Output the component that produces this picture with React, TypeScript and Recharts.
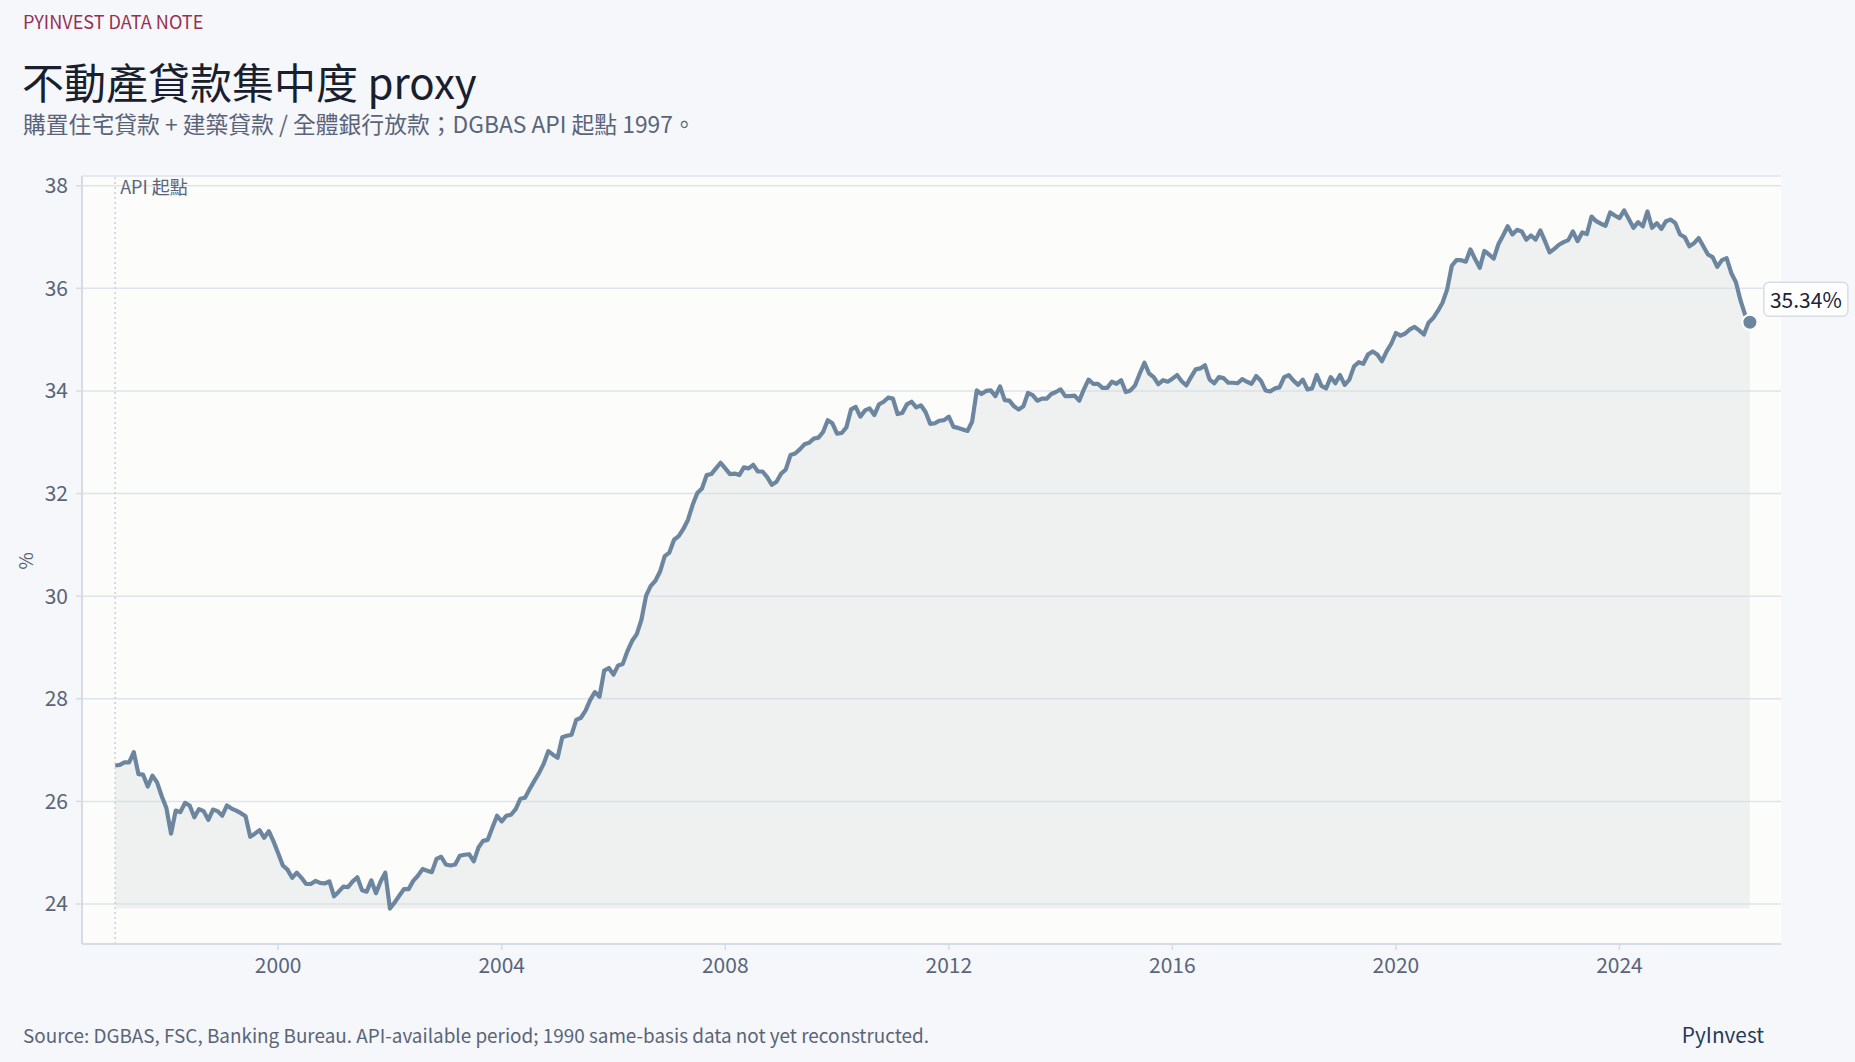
import {
  ComposedChart,
  Area,
  XAxis,
  YAxis,
  CartesianGrid,
  ReferenceLine,
  ReferenceDot,
} from 'recharts';

const FONT = '"Noto Sans CJK TC", "Noto Sans", sans-serif';

// Monthly ratio (%), Jan 1997 onward
const START_YEAR = 1997;
const concentration = [
  26.70, 26.71, 26.76, 26.76, 26.96, 26.53, 26.52, 26.29, 26.50, 26.37, 26.10, 25.87, // 1997
  25.37, 25.82, 25.79, 25.97, 25.92, 25.69, 25.85, 25.81, 25.64, 25.84, 25.81, 25.72, // 1998
  25.92, 25.86, 25.82, 25.77, 25.71, 25.31, 25.37, 25.44, 25.29, 25.42, 25.22, 24.99, // 1999
  24.75, 24.67, 24.51, 24.61, 24.51, 24.39, 24.39, 24.45, 24.41, 24.40, 24.44, 24.15, // 2000
  24.24, 24.34, 24.33, 24.44, 24.52, 24.27, 24.24, 24.46, 24.21, 24.44, 24.61, 23.91, // 2001
  24.03, 24.16, 24.29, 24.29, 24.45, 24.55, 24.68, 24.65, 24.62, 24.88, 24.92, 24.77, // 2002
  24.75, 24.77, 24.94, 24.96, 24.97, 24.83, 25.10, 25.23, 25.25, 25.49, 25.72, 25.61, // 2003
  25.72, 25.74, 25.85, 26.05, 26.07, 26.24, 26.40, 26.55, 26.73, 26.98, 26.91, 26.85, // 2004
  27.25, 27.28, 27.30, 27.59, 27.63, 27.77, 27.98, 28.13, 28.04, 28.55, 28.60, 28.47, // 2005
  28.65, 28.68, 28.93, 29.13, 29.26, 29.54, 30.01, 30.20, 30.30, 30.48, 30.78, 30.85, // 2006
  31.10, 31.17, 31.31, 31.49, 31.78, 32.01, 32.10, 32.36, 32.38, 32.49, 32.60, 32.49, // 2007
  32.38, 32.39, 32.36, 32.51, 32.49, 32.56, 32.43, 32.43, 32.32, 32.17, 32.23, 32.39, // 2008
  32.47, 32.75, 32.78, 32.86, 32.96, 32.99, 33.07, 33.09, 33.20, 33.43, 33.37, 33.17, // 2009
  33.18, 33.29, 33.64, 33.69, 33.50, 33.62, 33.66, 33.53, 33.74, 33.79, 33.87, 33.85, // 2010
  33.55, 33.57, 33.74, 33.79, 33.68, 33.72, 33.59, 33.36, 33.37, 33.42, 33.43, 33.50, // 2011
  33.30, 33.28, 33.25, 33.22, 33.40, 34.01, 33.94, 34.00, 34.01, 33.90, 34.09, 33.82, // 2012
  33.81, 33.70, 33.64, 33.70, 33.96, 33.92, 33.81, 33.85, 33.85, 33.94, 33.98, 34.03, // 2013
  33.90, 33.90, 33.91, 33.81, 34.03, 34.22, 34.14, 34.14, 34.06, 34.06, 34.18, 34.14, // 2014
  34.21, 33.98, 34.01, 34.11, 34.34, 34.55, 34.34, 34.27, 34.13, 34.21, 34.18, 34.24, // 2015
  34.31, 34.19, 34.11, 34.27, 34.42, 34.44, 34.50, 34.22, 34.15, 34.27, 34.25, 34.16, // 2016
  34.16, 34.15, 34.23, 34.18, 34.14, 34.29, 34.20, 34.01, 33.99, 34.05, 34.07, 34.27, // 2017
  34.31, 34.20, 34.12, 34.22, 34.03, 34.05, 34.31, 34.10, 34.05, 34.27, 34.15, 34.31, // 2018
  34.12, 34.22, 34.48, 34.56, 34.53, 34.71, 34.77, 34.71, 34.58, 34.77, 34.92, 35.13, // 2019
  35.08, 35.12, 35.20, 35.25, 35.18, 35.10, 35.33, 35.42, 35.56, 35.72, 35.98, 36.44, // 2020
  36.55, 36.55, 36.52, 36.76, 36.57, 36.40, 36.73, 36.66, 36.58, 36.86, 37.03, 37.21, // 2021
  37.05, 37.14, 37.11, 36.95, 37.03, 36.95, 37.13, 36.92, 36.70, 36.77, 36.85, 36.90, // 2022
  36.94, 37.11, 36.92, 37.09, 37.06, 37.40, 37.31, 37.26, 37.22, 37.48, 37.42, 37.37, // 2023
  37.52, 37.35, 37.18, 37.29, 37.21, 37.50, 37.18, 37.27, 37.16, 37.31, 37.34, 37.27, // 2024
  37.05, 37.00, 36.82, 36.88, 36.98, 36.82, 36.66, 36.61, 36.42, 36.55, 36.59, 36.30, // 2025
  36.12, 35.76, 35.48, 35.34, // 2026
];

const yearTicks = [2000, 2004, 2008, 2012, 2016, 2020, 2024];
const pctTicks = [24, 26, 28, 30, 32, 34, 36, 38];
const API_START_LABEL = 'API 起點';

// month-end positions on a fractional-year axis
const data = concentration.map((v, i) => ({ t: START_YEAR + (i + 1) / 12, v }));
const first = data[0];
const last = data[data.length - 1];
const floor = Math.min(...concentration);

const LINE = '#6d86a0';
const AXIS = '#d5dce6';
const GRID = '#dfe4ec';
const MUTED = '#5a6478';

const W = 1855;
const H = 1062;

function ApiLabel(props: any) {
  const vb = props.viewBox || {};
  return (
    <text
      x={vb.x + 5}
      y={vb.y + 10}
      dominantBaseline="central"
      fontSize={18}
      fontFamily={FONT}
      fill={MUTED}
    >
      {API_START_LABEL}
    </text>
  );
}

function EndLabel(props: any) {
  const vb = props.viewBox || {};
  const cx = vb.x + (vb.width || 0) / 2;
  const cy = vb.y + (vb.height || 0) / 2;
  return (
    <g>
      <rect
        x={cx + 14}
        y={cy - 40}
        width={84}
        height={34}
        rx={5}
        fill="#ffffff"
        stroke="#d6dde7"
        strokeWidth={1.5}
      />
      <text
        x={cx + 56}
        y={cy - 23}
        textAnchor="middle"
        dominantBaseline="central"
        fontSize={21}
        fontFamily={FONT}
        fill="#1a2333"
      >
        {`${last.v.toFixed(2)}%`}
      </text>
    </g>
  );
}

export default function App() {
  return (
    <div
      style={{
        position: 'absolute',
        left: 0,
        top: 0,
        width: W,
        height: H,
        background: '#f5f7fa',
        fontFamily: FONT,
        overflow: 'hidden',
      }}
    >
      <div style={{ position: 'absolute', left: 0, top: 0 }}>
        <ComposedChart
          width={W}
          height={H}
          data={data}
          margin={{ top: 176, right: 74, bottom: 0, left: 0 }}
        >
          <CartesianGrid
            vertical={false}
            stroke={GRID}
            strokeWidth={1.5}
            fill="#fcfcfb"
            fillOpacity={1}
          />
          <XAxis
            dataKey="t"
            type="number"
            domain={[1996.49, 2026.89]}
            ticks={yearTicks}
            allowDataOverflow
            height={118}
            axisLine={{ stroke: AXIS, strokeWidth: 2 }}
            tickLine={{ stroke: AXIS, strokeWidth: 1.5 }}
            tickSize={6}
            tickMargin={8}
            tick={{ fill: MUTED, fontSize: 21, fontFamily: FONT }}
          />
          <YAxis
            type="number"
            domain={[23.22, 38.19]}
            ticks={pctTicks}
            allowDataOverflow
            width={82}
            axisLine={{ stroke: AXIS, strokeWidth: 2 }}
            tickLine={{ stroke: AXIS, strokeWidth: 1.5 }}
            tickSize={6}
            tickMargin={8}
            tick={{ fill: MUTED, fontSize: 21, fontFamily: FONT }}
          />
          <ReferenceLine
            x={first.t}
            stroke="#c8d0dc"
            strokeWidth={1.5}
            strokeDasharray="2 3"
            label={ApiLabel}
          />
          <Area
            type="linear"
            dataKey="v"
            baseValue={floor}
            stroke={LINE}
            strokeWidth={4.2}
            strokeLinejoin="round"
            fill="#d4d9db"
            fillOpacity={0.32}
            dot={false}
            activeDot={false}
            isAnimationActive={false}
          />
          <ReferenceDot
            x={last.t}
            y={last.v}
            r={7.5}
            fill={LINE}
            stroke="#ffffff"
            strokeWidth={2}
            label={EndLabel}
          />
        </ComposedChart>
      </div>

      {/* headings and footer */}
      <svg
        width={W}
        height={H}
        style={{ position: 'absolute', left: 0, top: 0, pointerEvents: 'none' }}
      >
        <text x={23} y={21} dominantBaseline="central" fontSize={18.1} fill="#982f52" fontFamily={FONT}>
          PYINVEST DATA NOTE
        </text>
        <text x={22} y={80} dominantBaseline="central" fontSize={42} fill="#18202e" fontFamily={FONT}>
          不動產貸款集中度 proxy
        </text>
        <text x={23} y={123} dominantBaseline="central" fontSize={22.8} fill={MUTED} fontFamily={FONT}>
          購置住宅貸款 + 建築貸款 / 全體銀行放款；DGBAS API 起點 1997。
        </text>
        <text
          x={24}
          y={561}
          textAnchor="middle"
          dominantBaseline="central"
          fontSize={19}
          fill={MUTED}
          fontFamily={FONT}
          transform="rotate(-90 24 561)"
        >
          %
        </text>
        <text x={23} y={1034} dominantBaseline="central" fontSize={18.9} fill={MUTED} fontFamily={FONT}>
          Source: DGBAS, FSC, Banking Bureau. API-available period; 1990 same-basis data not yet reconstructed.
        </text>
        <text x={1764} y={1034} textAnchor="end" dominantBaseline="central" fontSize={20.8} fill="#253a59" fontFamily={FONT}>
          PyInvest
        </text>
      </svg>
    </div>
  );
}
